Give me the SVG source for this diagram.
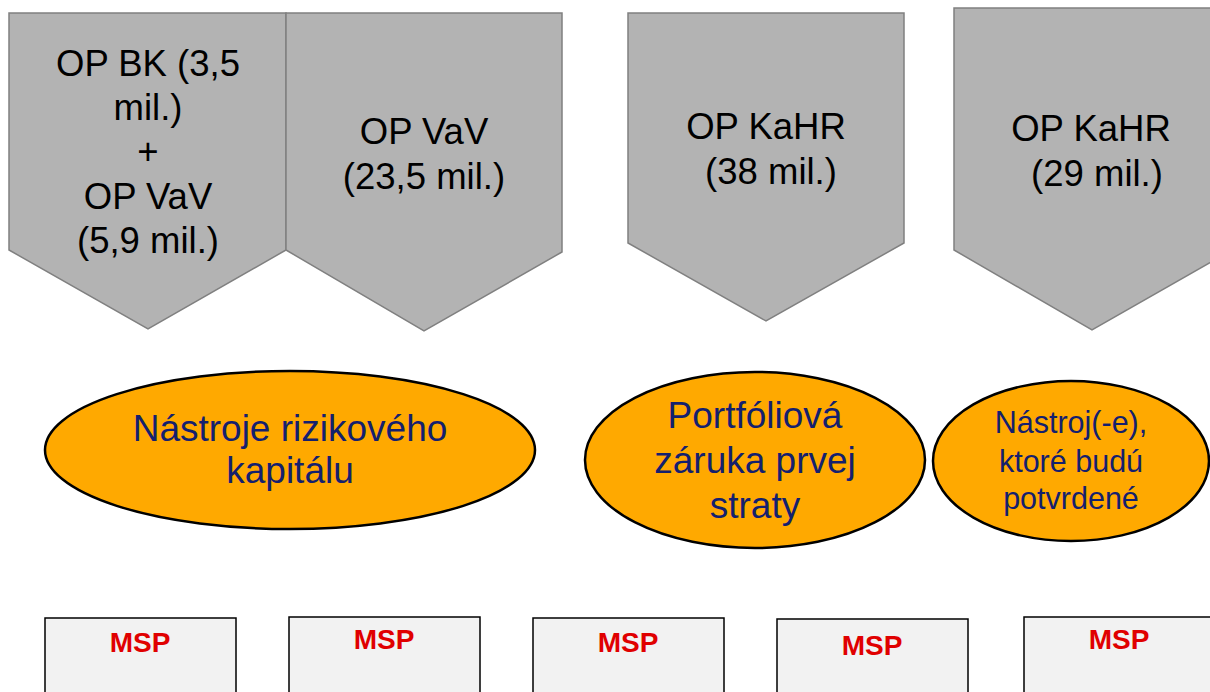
<svg xmlns="http://www.w3.org/2000/svg" width="1210" height="692" viewBox="0 0 1210 692">
<style>
.pent{fill:#b3b3b3;stroke:#808080;stroke-width:1.5}
.pt{font-family:"Liberation Sans",Arial,sans-serif;font-size:36.5px;fill:#000;text-anchor:middle}
.ell{fill:#ffa900;stroke:#000;stroke-width:2.5}
.et{font-family:"Liberation Sans",Arial,sans-serif;font-size:37px;fill:#14206e;text-anchor:middle}
.et2{font-family:"Liberation Sans",Arial,sans-serif;font-size:30.5px;fill:#14206e;text-anchor:middle}
.box{fill:#f2f2f2;stroke:#000;stroke-width:1.5}
.bt{font-family:"Liberation Sans",Arial,sans-serif;font-size:28px;font-weight:bold;fill:#e00000;text-anchor:middle}
</style>
<rect width="1210" height="692" fill="#fff"/>
<g id="op1">
<polygon class="pent" points="9,13 286,13 286,250 148,329 9,250"/>
<text class="pt" x="148" y="76">OP BK (3,5</text>
<text class="pt" x="148" y="120">mil.)</text>
<text class="pt" x="148" y="164">+</text>
<text class="pt" x="148" y="209">OP VaV</text>
<text class="pt" x="148" y="253">(5,9 mil.)</text>
</g>
<g id="op2">
<polygon class="pent" points="286,13 562,13 562,252 424,331 286,250"/>
<text class="pt" x="424" y="144">OP VaV</text>
<text class="pt" x="424" y="189">(23,5 mil.)</text>
</g>
<g id="op3">
<polygon class="pent" points="628,13 904,13 904,243 766,321 628,243"/>
<text class="pt" x="766" y="139">OP KaHR</text>
<text class="pt" x="771" y="184">(38 mil.)</text>
</g>
<g id="op4">
<polygon class="pent" points="954,8 1232,8 1232,250 1092,330 954,250"/>
<text class="pt" x="1091" y="141">OP KaHR</text>
<text class="pt" x="1097" y="186">(29 mil.)</text>
</g>
<g id="connectors"></g>
<g id="tool1">
<ellipse class="ell" cx="290" cy="450" rx="245" ry="79"/>
<text class="et" x="290" y="441">Nástroje rizikového</text>
<text class="et" x="290" y="483">kapitálu</text>
</g>
<g id="tool2">
<ellipse class="ell" cx="755" cy="460" rx="170" ry="88"/>
<text class="et" x="755" y="428">Portfóliová</text>
<text class="et" x="755" y="473">záruka prvej</text>
<text class="et" x="755" y="518">straty</text>
</g>
<g id="tool3">
<ellipse class="ell" cx="1071" cy="461" rx="138" ry="80"/>
<text class="et2" x="1071" y="433">Nástroj(-e),</text>
<text class="et2" x="1071" y="472">ktoré budú</text>
<text class="et2" x="1071" y="509">potvrdené</text>
</g>
<g id="msp1">
<rect class="box" x="45" y="618" width="191" height="90"/>
<text class="bt" x="140" y="652">MSP</text>
</g>
<g id="msp2">
<rect class="box" x="289" y="617" width="191" height="90"/>
<text class="bt" x="384" y="649">MSP</text>
</g>
<g id="msp3">
<rect class="box" x="533" y="618" width="191" height="90"/>
<text class="bt" x="628" y="652">MSP</text>
</g>
<g id="msp4">
<rect class="box" x="777" y="619" width="191" height="90"/>
<text class="bt" x="872" y="655">MSP</text>
</g>
<g id="msp5">
<rect class="box" x="1024" y="617" width="191" height="90"/>
<text class="bt" x="1119" y="649">MSP</text>
</g>
</svg>
